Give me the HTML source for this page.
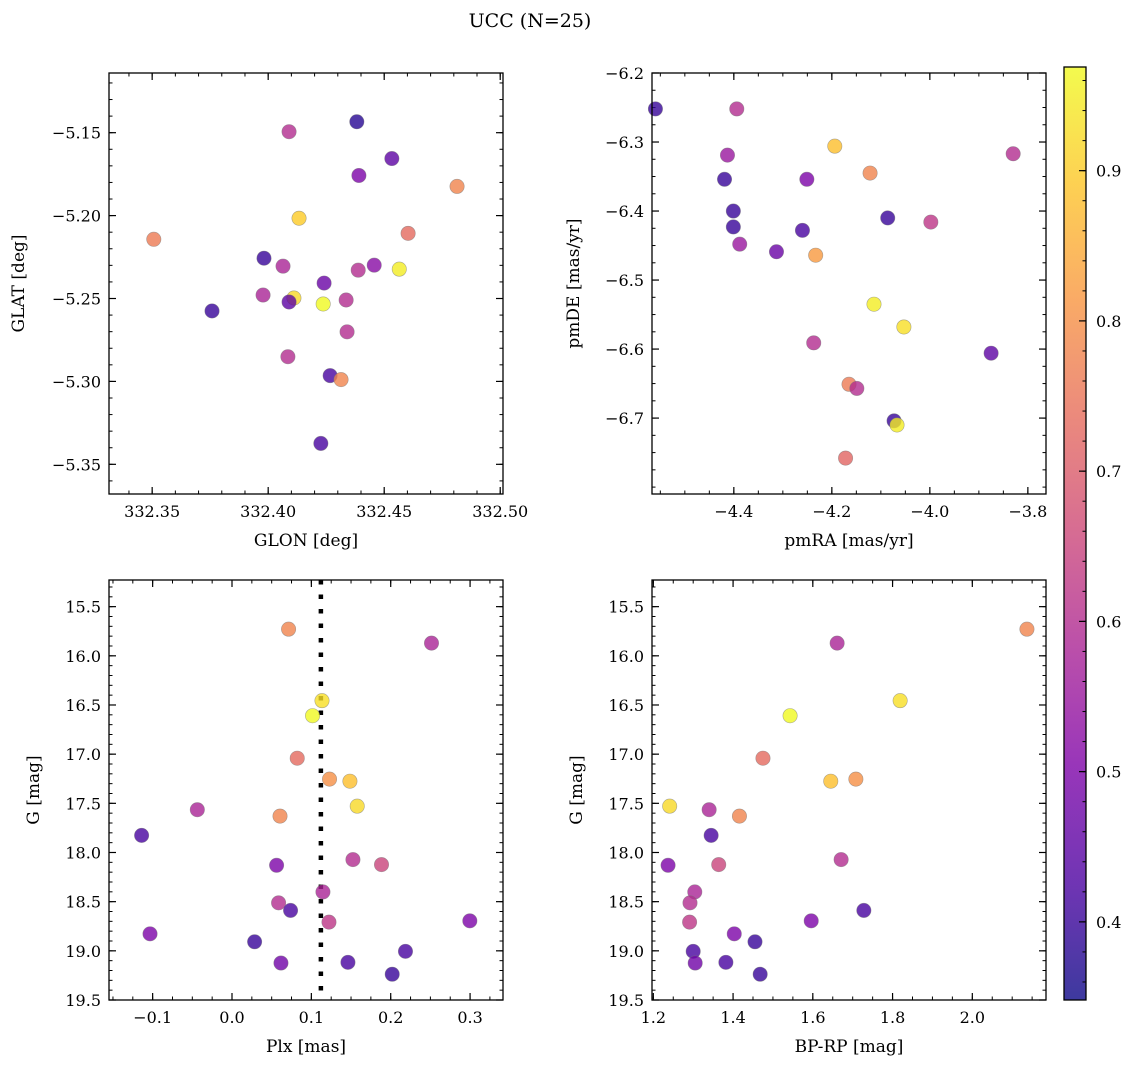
<!DOCTYPE html>
<html><head><meta charset="utf-8">
<style>
html,body{margin:0;padding:0;background:#fff;}
svg{display:block;font-family:"DejaVu Serif","Liberation Serif",serif;}
</style></head>
<body>
<svg id="fig" width="1136" height="1067" viewBox="0 0 1136 1067" xmlns="http://www.w3.org/2000/svg">
<text x="530" y="27" text-anchor="middle" font-size="19">UCC (N=25)</text>
</svg>
<script>
// ---- data ----
const glon = [332.409,332.4382,332.4533,332.4391,332.4814,332.4133,332.3507,332.4603,332.3982,332.4064,332.4241,332.4457,332.4388,332.4565,332.3978,332.4111,332.409,332.4237,332.4336,332.3758,332.434,332.4085,332.4267,332.4314,332.4227];
const glat = [-5.1494,-5.1434,-5.1656,-5.1758,-5.1824,-5.2016,-5.2143,-5.2107,-5.2257,-5.2305,-5.2407,-5.2299,-5.2329,-5.2323,-5.2479,-5.2497,-5.2521,-5.2533,-5.2509,-5.2575,-5.2701,-5.2851,-5.2965,-5.2989,-5.3374];
const probTL = [0.6,0.38,0.45,0.5,0.78,0.9,0.76,0.73,0.4,0.58,0.47,0.52,0.6,0.95,0.58,0.92,0.45,0.97,0.6,0.4,0.6,0.6,0.42,0.78,0.42];
const pmra = [-4.560,-4.394,-4.413,-4.419,-4.251,-4.194,-4.122,-3.830,-4.401,-4.086,-3.998,-4.401,-4.260,-4.388,-4.313,-4.233,-4.114,-4.053,-4.237,-3.875,-4.165,-4.149,-4.073,-4.067,-4.172];
const pmde = [-6.252,-6.252,-6.319,-6.354,-6.354,-6.306,-6.345,-6.317,-6.400,-6.410,-6.416,-6.423,-6.428,-6.448,-6.459,-6.464,-6.535,-6.568,-6.591,-6.606,-6.651,-6.657,-6.704,-6.710,-6.758];
const probTR = [0.4,0.6,0.55,0.4,0.5,0.88,0.78,0.6,0.4,0.4,0.62,0.4,0.42,0.55,0.47,0.82,0.95,0.93,0.6,0.45,0.76,0.6,0.4,0.95,0.72];
const plx = [0.0713,0.2514,0.1134,0.1015,0.0822,0.1229,0.1486,0.1578,-0.0437,0.0605,-0.1139,0.0562,0.1524,0.1884,0.1146,0.0587,0.0738,0.1222,0.2997,-0.1033,0.0285,0.2186,0.0617,0.1461,0.2019];
const gmag = [15.729,15.871,16.456,16.609,17.041,17.254,17.275,17.529,17.565,17.630,17.826,18.130,18.072,18.123,18.401,18.512,18.589,18.708,18.695,18.827,18.908,19.005,19.124,19.117,19.238];
const bprp = [2.137,1.661,1.819,1.543,1.475,1.708,1.645,1.241,1.340,1.416,1.345,1.237,1.671,1.364,1.304,1.292,1.728,1.291,1.596,1.403,1.455,1.300,1.305,1.382,1.468];
const probB = [0.78,0.58,0.93,0.97,0.73,0.8,0.88,0.92,0.58,0.78,0.42,0.5,0.6,0.65,0.58,0.6,0.42,0.62,0.5,0.5,0.4,0.42,0.48,0.42,0.4];
const plxMean = [0.112];
const cbTicks = [0.4,0.5,0.6,0.7,0.8,0.9];
const vmin = 0.348, vmax = 0.969;

const NS = "http://www.w3.org/2000/svg";
const svg = document.getElementById('fig');
function mk(tag, attrs, parent){const e=document.createElementNS(NS,tag);for(const k in attrs)e.setAttribute(k,attrs[k]);(parent||svg).appendChild(e);return e;}

const stops=[[13,8,135],[76,2,161],[126,3,168],[169,35,149],[204,71,120],[230,108,92],[248,149,64],[253,197,39],[240,249,33]];
function plasma(t){t=Math.max(0,Math.min(1,t));const f=t*8,i=Math.min(7,Math.floor(f)),r=f-i;const a=stops[i],b=stops[i+1];
 return a.map((v,k)=>Math.round(v+(b[k]-v)*r));}
function colorOf(v){const c=plasma((v-vmin)/(vmax-vmin));return 'rgb('+c.join(',')+')';}
function fmt(v,d){let s=v.toFixed(d);if(v<-1e-9)s='\u2212'+s.slice(1);return s;}

function panel(cfg){
 const g=mk('g',{});
 
 
 const {x0,x1,y0,y1}=cfg.box;
 const sx=v=>x0+(v-cfg.xr[0])/(cfg.xr[1]-cfg.xr[0])*(x1-x0);
 const sy=v=>y0+(v-cfg.yr[0])/(cfg.yr[1]-cfg.yr[0])*(y1-y0);
 // ticks
 function ticks(lo,hi,step,fn){const out=[];const a=Math.ceil(Math.min(lo,hi)/step-1e-6),b=Math.floor(Math.max(lo,hi)/step+1e-6);for(let i=a;i<=b;i++)out.push(i*step);return out;}
 ticks(cfg.xr[0],cfg.xr[1],cfg.xminor).forEach(v=>{const x=sx(v);mk('line',{x1:x,x2:x,y1:y1,y2:y1-3.5,stroke:'#000','stroke-width':1},g);mk('line',{x1:x,x2:x,y1:y0,y2:y0+3.5,stroke:'#000','stroke-width':1},g);});
 ticks(cfg.yr[0],cfg.yr[1],cfg.yminor).forEach(v=>{const y=sy(v);mk('line',{x1:x0,x2:x0+3.5,y1:y,y2:y,stroke:'#000','stroke-width':1},g);mk('line',{x1:x1,x2:x1-3.5,y1:y,y2:y,stroke:'#000','stroke-width':1},g);});
 cfg.xticks.forEach(v=>{const x=sx(v);mk('line',{x1:x,x2:x,y1:y1,y2:y1-7,stroke:'#000','stroke-width':1.2},g);mk('line',{x1:x,x2:x,y1:y0,y2:y0+7,stroke:'#000','stroke-width':1.2},g);
  const t=mk('text',{x:x,y:y1+23,'text-anchor':'middle','font-size':16},g);t.textContent=fmt(v,cfg.xd);
  
  });
 cfg.yticks.forEach(v=>{const y=sy(v);mk('line',{x1:x0,x2:x0+7,y1:y,y2:y,stroke:'#000','stroke-width':1.2},g);mk('line',{x1:x1,x2:x1-7,y1:y,y2:y,stroke:'#000','stroke-width':1.2},g);
  const t=mk('text',{x:x0-8,y:y+6,'text-anchor':'end','font-size':16},g);t.textContent=fmt(v,cfg.yd);
  
  });
 // vertical line
 if(cfg.vline){cfg.vline.forEach(v=>{const l=mk('line',{x1:sx(v),x2:sx(v),y1:y0,y2:y1,stroke:'#000','stroke-width':4.5,'stroke-dasharray':'4.5 10'},g);
  
  });}
 // points
 cfg.xs.forEach((xv,i)=>{const c=mk('circle',{cx:sx(xv),cy:sy(cfg.ys[i]),r:7.2,fill:colorOf(cfg.cs[i]),'fill-opacity':0.8,stroke:'#777','stroke-opacity':0.6,'stroke-width':0.6},g);
  
  });
 mk('rect',{x:x0,y:y0,width:x1-x0,height:y1-y0,fill:'none',stroke:'#000','stroke-width':1.3},g);
 const xl=mk('text',{x:(x0+x1)/2,y:y1+52,'text-anchor':'middle','font-size':17},g);xl.textContent=cfg.xlabel;
 
 
 const yc=(y0+y1)/2;const yl=mk('text',{x:cfg.ylx,y:yc,'text-anchor':'middle','font-size':17,transform:'rotate(-90 '+cfg.ylx+' '+yc+')'},g);yl.textContent=cfg.ylabel;
 
 
}

panel({name:'glon-glat-panel',box:{x0:109,x1:503,y0:73,y1:494},xr:[332.3314,332.5012],yr:[-5.1140,-5.3679],
 xticks:[332.35,332.40,332.45,332.50],yticks:[-5.15,-5.20,-5.25,-5.30,-5.35],xminor:0.01,yminor:0.01,xd:2,yd:2,
 xs:glon,ys:glat,cs:probTL,xlabel:'GLON [deg]',ylabel:'GLAT [deg]',ylx:24});
panel({name:'pm-panel',box:{x0:652,x1:1046,y0:73,y1:494},xr:[-4.567,-3.763],yr:[-6.2,-6.810],
 xticks:[-4.4,-4.2,-4.0,-3.8],yticks:[-6.2,-6.3,-6.4,-6.5,-6.6,-6.7],xminor:0.05,yminor:0.025,xd:1,yd:1,
 xs:pmra,ys:pmde,cs:probTR,xlabel:'pmRA [mas/yr]',ylabel:'pmDE [mas/yr]',ylx:579});
panel({name:'plx-g-panel',box:{x0:109,x1:503,y0:580,y1:1000},xr:[-0.155,0.3415],yr:[15.229,19.5],
 xticks:[-0.1,0.0,0.1,0.2,0.3],yticks:[15.5,16,16.5,17,17.5,18,18.5,19,19.5],xminor:0.025,yminor:0.1,xd:1,yd:1,
 xs:plx,ys:gmag,cs:probB,vline:plxMean,xlabel:'Plx [mas]',ylabel:'G [mag]',ylx:39});
panel({name:'cmd-panel',box:{x0:652,x1:1046,y0:580,y1:1000},xr:[1.1967,2.1848],yr:[15.229,19.5],
 xticks:[1.2,1.4,1.6,1.8,2.0],yticks:[15.5,16,16.5,17,17.5,18,18.5,19,19.5],xminor:0.05,yminor:0.1,xd:1,yd:1,
 xs:bprp,ys:gmag,cs:probB,xlabel:'BP-RP [mag]',ylabel:'G [mag]',ylx:582});

// colorbar
(function(){
 const g=mk('g',{});
 
 
 const x0=1064,x1=1086,y0=67,y1=1000;
 const defs=mk('defs',{},g);const lg=mk('linearGradient',{id:'cbg',x1:0,y1:1,x2:0,y2:0},defs);
 for(let i=0;i<=16;i++){const c=plasma(i/16);mk('stop',{offset:i/16,'stop-color':'rgb('+c.join(',')+')','stop-opacity':0.8},lg);}
 mk('rect',{x:x0,y:y0,width:x1-x0,height:y1-y0,fill:'url(#cbg)'},g);
 const sy=v=>y1-(v-vmin)/(vmax-vmin)*(y1-y0);
 for(let v=0.36;v<0.969;v+=0.02){const y=sy(v);mk('line',{x1:x1,x2:x1-3.5,y1:y,y2:y,stroke:'#000','stroke-width':1},g);}
 cbTicks.forEach(v=>{const y=sy(v);mk('line',{x1:x1,x2:x1-7,y1:y,y2:y,stroke:'#000','stroke-width':1.2},g);
  const t=mk('text',{x:x1+10,y:y+6,'font-size':16},g);t.textContent=v.toFixed(1);
  
  });
 mk('rect',{x:x0,y:y0,width:x1-x0,height:y1-y0,fill:'none',stroke:'#000','stroke-width':1.3},g);
})();
</script>
</body></html>
